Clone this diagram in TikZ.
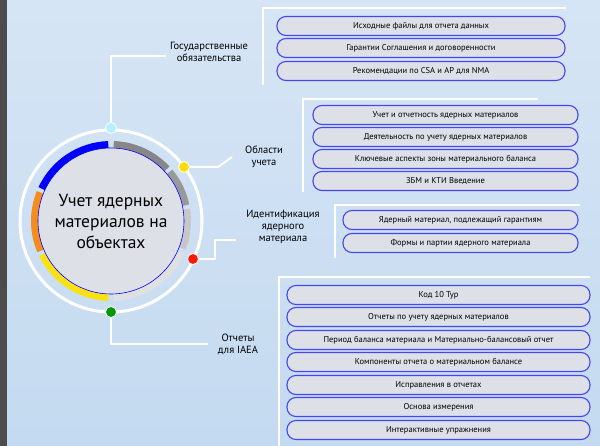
\documentclass[tikz,border=0pt]{standalone}
\usepackage{fontspec}
\usetikzlibrary{calc}
\setmainfont{PT Sans}
\definecolor{bgA}{RGB}{196,218,240}
\definecolor{bgB}{RGB}{214,229,245}
\definecolor{boxfill}{RGB}{222,224,232}
\definecolor{boxline}{RGB}{70,70,240}
\definecolor{orng}{RGB}{245,140,30}
\definecolor{yel}{RGB}{250,225,20}
\tikzset{
 x=1pt,y=-1pt,
 itembox/.style={draw=boxline,fill=boxfill,line width=1.1pt,rounded corners=9pt,font=\fontsize{8.5}{9}\selectfont},
 lbl/.style={align=center,font=\fontsize{10.5}{12}\selectfont},
 wl/.style={white,line width=2pt},
 seg/.style={line width=8pt},
 dot/.style={circle,minimum size=11pt,inner sep=0pt,draw=white,line width=0.8pt}
}
\newcommand{\itm}[5]{\node[itembox,minimum width=#3-#2,minimum height=19,inner sep=0pt] (#1) at ({(#2+#3)/2},#4) {#5};}
\begin{document}
\begin{tikzpicture}
\useasboundingbox (0,0) rectangle (600,446);
\shade[top color=bgB,bottom color=bgA] (0,0) rectangle (600,446);
\fill[black!70] (0,0) rectangle (7,446);
% circle
\coordinate (c) at (111,221);
\draw[white,line width=3pt] (c) circle[radius=91pt];
\foreach \a/\b/\col in {92/155/blue,158/203/orng,206/268/yel,272/336/black!12,339/369/black!22,372/400/black!40,403/448/black!47}{
 \draw[seg,\col] ($(c)+(\a:76pt)$) arc[start angle=\a,end angle=\b,radius=76pt];
}
\node[circle,fill=boxfill,draw=blue,line width=0.6pt,minimum size=146pt,inner sep=0pt,align=center,font=\fontsize{17.5}{21}\selectfont] (center) at (c) {Учет ядерных\\материалов на\\объектах};
% dots
\node[dot,fill=blue!20!cyan!30] (d1) at (111,128) {};
\node[dot,fill=yellow!80!orange] (d2) at (184,167) {};
\node[dot,fill=red!80!orange] (d3) at (193,259) {};
\node[dot,fill=green!60!black] (d4) at (111,312) {};
% labels
\node[lbl] (l1) at (209,52) {Государственные\\обязательства};
\node[lbl] (l2) at (264,157) {Области\\учета};
\node[lbl] (l3) at (283,227) {Идентификация\\ядерного\\материала};
\node[lbl] (l4) at (238,344) {Отчеты\\для IAEA};
\coordinate (k1) at (111,56);
\draw[wl] (d1) -- (k1) -- (l1.west|-k1);
\coordinate (k2) at (218,167);
\draw[wl] (d2) -- (k2) -- (232,157);
\coordinate (k3) at (215,259);
\coordinate (k3b) at (215,240);
\draw[wl] (d3) -- (k3) -- (k3b) -- (236,240);
\coordinate (k4) at (111,344);
\draw[wl] (d4) -- (k4) -- (208,344);
% brackets
\draw[wl] (263,85) -- (263,8) -- (566,8);
\draw[wl] (303,192) -- (303,99) -- (538,99);
\draw[wl] (335,258) -- (335,205) -- (580,205);
\draw[wl] (279,446) -- (279,277) -- (590,277);
% items
\itm{a1}{277}{565}{26}{Исходные файлы для отчета данных}
\itm{a2}{277}{565}{48}{Гарантии Соглашения и договоренности}
\itm{a3}{277}{565}{71}{Рекомендации по CSA и AP для NMA}
\itm{b1}{313}{578}{115}{Учет и отчетность ядерных материалов}
\itm{b2}{313}{578}{137}{Деятельность по учету ядерных материалов}
\itm{b3}{313}{578}{159}{Ключевые аспекты зоны материального баланса}
\itm{b4}{313}{578}{181}{ЗБМ и КТИ Введение}
\itm{c1}{343}{578}{220}{Ядерный материал, подлежащий гарантиям}
\itm{c2}{343}{578}{243}{Формы и партии ядерного материала}
\itm{e1}{287}{590}{295}{Код 10 Тур}
\itm{e2}{287}{590}{317}{Отчеты по учету ядерных материалов}
\itm{e3}{287}{590}{340}{Период баланса материала и Материально-балансовый отчет}
\itm{e4}{287}{590}{362}{Компоненты отчета о материальном балансе}
\itm{e5}{287}{590}{385}{Исправления в отчетах}
\itm{e6}{287}{590}{407}{Основа измерения}
\itm{e7}{287}{590}{430}{Интерактивные упражнения}
\end{tikzpicture}
\end{document}
